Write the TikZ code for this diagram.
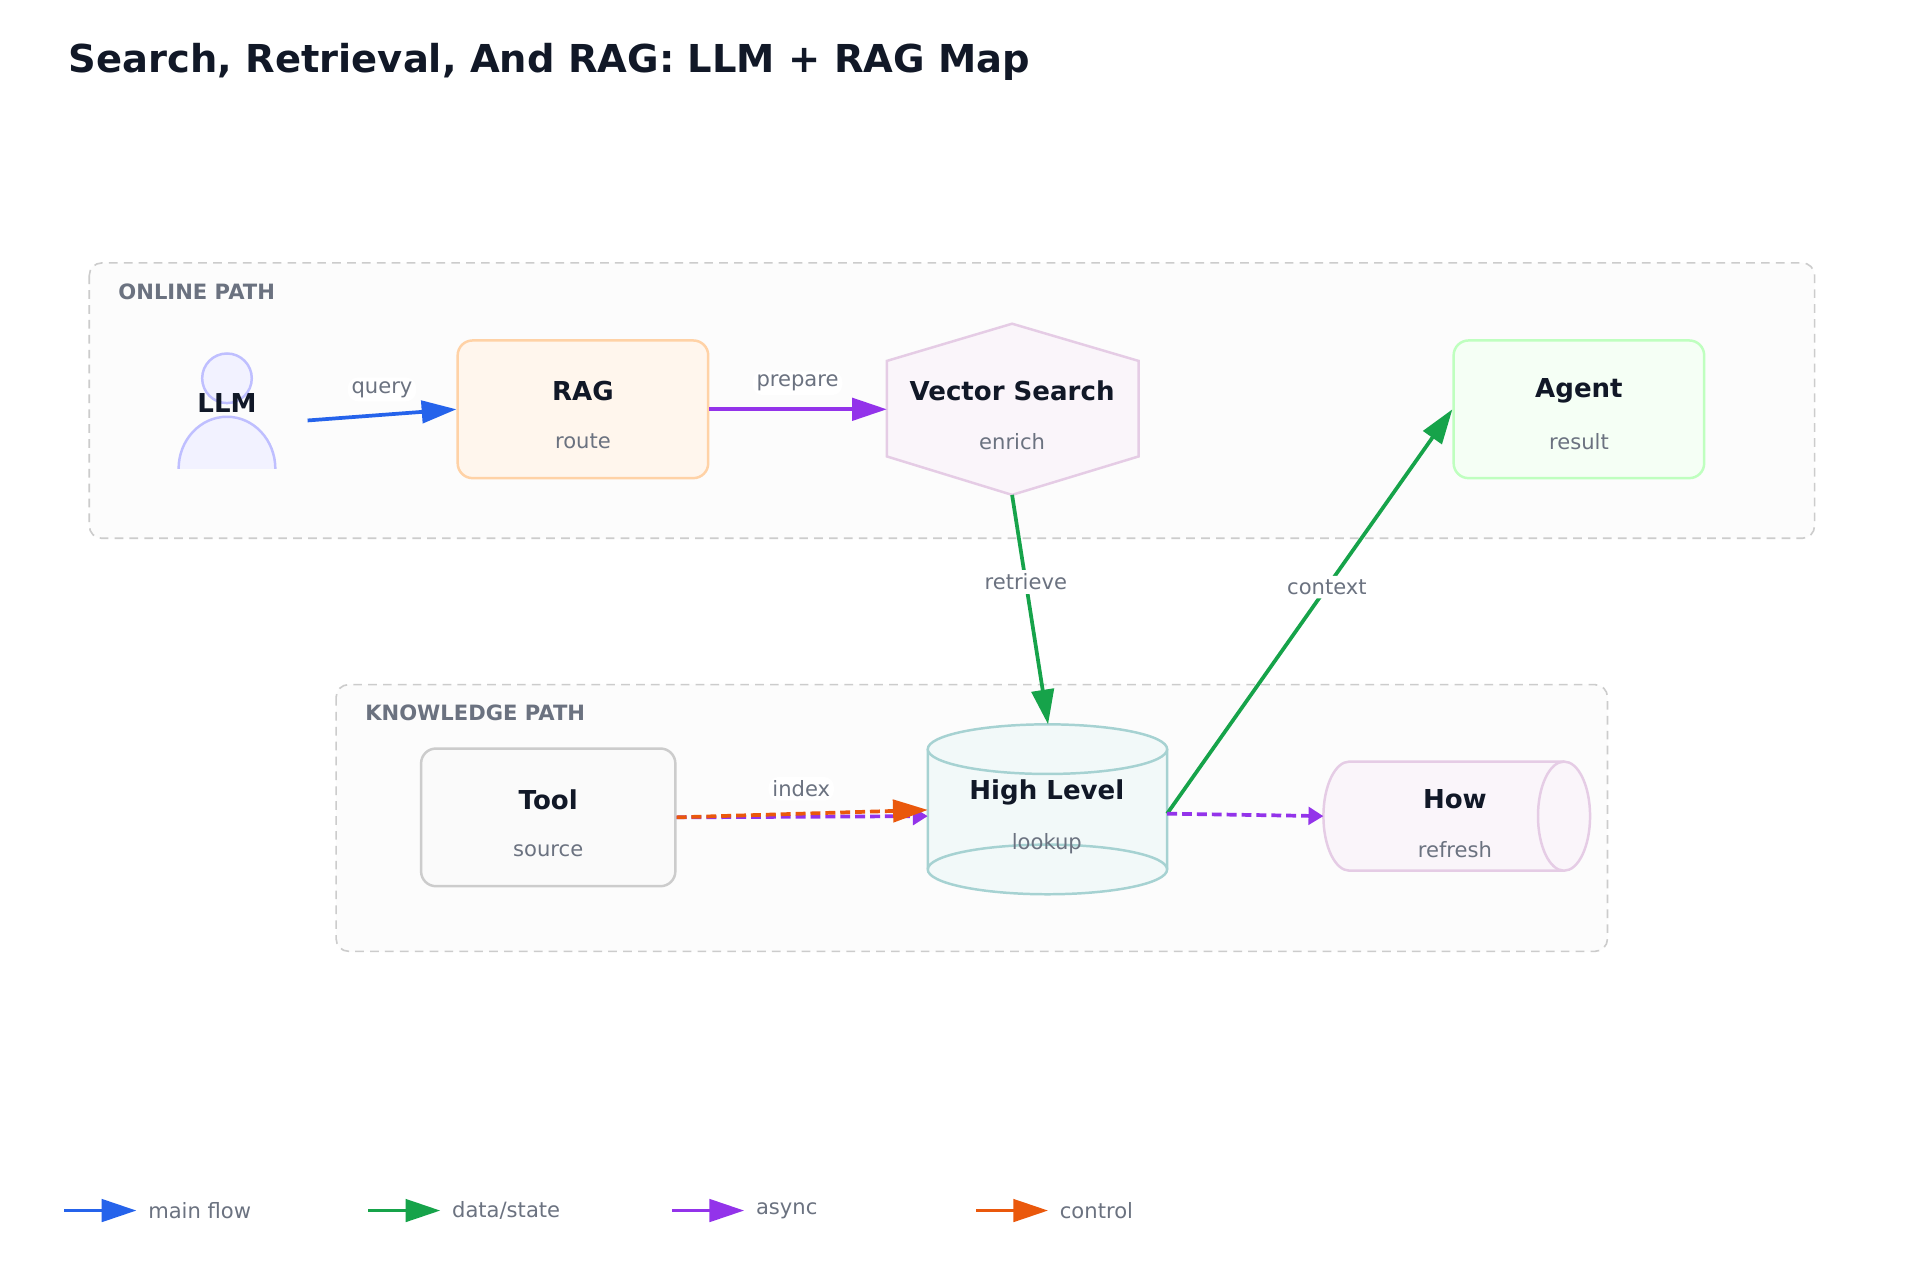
\documentclass[tikz,border=0pt]{standalone}
\usepackage{fontspec}
\setmainfont{DejaVu Sans}
\usetikzlibrary{arrows.meta,positioning}

\definecolor{ink}{HTML}{111827}
\definecolor{mute}{HTML}{6B7280}
\definecolor{cblue}{HTML}{2563EB}
\definecolor{cgreen}{HTML}{16A34A}
\definecolor{cpurple}{HTML}{9333EA}
\definecolor{corange}{HTML}{EA580C}

\tikzset{
  grp/.style={draw=black!20, fill=black!1, dashed, dash pattern=on 7pt off 5pt, line width=1.3pt, rounded corners=10pt},
  grplbl/.style={anchor=west, text=mute, font=\bfseries\fontsize{17}{20}\selectfont},
  box/.style={draw=#1, line width=2pt, rounded corners=12pt, minimum width=202pt, minimum height=111pt},
  ttl/.style={text=ink, font=\bfseries\fontsize{21}{25}\selectfont},
  sub/.style={text=mute, font=\fontsize{17}{20}\selectfont},
  flow/.style={draw=#1, line width=3pt, -{Triangle[length=28pt,width=18pt]}},
  lbl/.style={fill=white, rounded corners=8pt, text=mute, font=\fontsize{17}{20}\selectfont, inner sep=3pt},
}

\begin{document}
\begin{tikzpicture}[x=1pt,y=-1pt]
   \useasboundingbox[fill=white] (0,0) rectangle (1548,1032);

   %% title
   \node[anchor=west, text=ink, font=\bfseries\fontsize{31}{36}\selectfont] (title) at (52,50) {Search, Retrieval, And RAG: LLM + RAG Map};

   %% groups
   \draw[grp] (72,212) rectangle (1463,434);
   \node[grplbl] (online) at (92,235) {ONLINE PATH};
   \draw[grp] (271,552) rectangle (1296,767);
   \node[grplbl] (know) at (291,575) {KNOWLEDGE PATH};

   %% LLM (person)
   \draw[draw=blue!25, fill=blue!5, line width=2pt] (183,305) circle (20pt);
   \draw[draw=blue!25, fill=blue!5, line width=2pt] (144,378) arc[start angle=180, end angle=0, x radius=39pt, y radius=42pt];
   \node[ttl] (llm) at (183,325) {LLM};
   \coordinate (llmout) at (248,339);

   %% RAG
   \node[box=orange!35, fill=orange!7] (rag) at (470,330) {};
   \node[ttl] at (470,315) {RAG};
   \node[sub] at (470,356) {route};

   %% Vector Search
   \draw[draw=violet!20, fill=violet!4, line width=2pt]
     (816,261) -- (918,291) -- (918,368) -- (816,399) -- (715,368) -- (715,291) -- cycle;
   \coordinate (vsw) at (715,330);
   \coordinate (vss) at (816,399);
   \node[ttl] (vs) at (816,315) {Vector Search};
   \node[sub] at (816,356) {enrich};

   %% Agent
   \node[box=green!25, fill=green!4] (agent) at (1273,330) {};
   \node[ttl] at (1273,315) {Agent};
   \node[sub] at (1273,356) {result};

   %% Tool
   \node[box=black!20, fill=black!2, minimum width=205pt] (tool) at (442,659) {};
   \node[ttl] at (442,645) {Tool};
   \node[sub] at (442,686) {source};

   %% High Level (cylinder)
   \draw[draw=teal!35, fill=teal!5, line width=2pt]
     (748,604) -- (748,701) arc[start angle=180, end angle=360, x radius=96.5pt, y radius=20pt] -- (941,604);
   \draw[draw=teal!35, fill=teal!5, line width=2pt] (844.5,604) ellipse (96.5pt and 20pt);
   \draw[draw=teal!35, line width=2pt] (748,701) arc[start angle=180, end angle=0, x radius=96.5pt, y radius=20pt];
   \coordinate (hlw) at (748,656);
   \coordinate (hle) at (941,656);
   \coordinate (hln) at (845,584);
   \node[ttl] (hl) at (844,639) {High Level};
   \node[sub] at (844,680) {lookup};

   %% How (horizontal cylinder)
   \draw[draw=violet!20, fill=violet!4, line width=2pt]
     (1261,614) -- (1088,614) arc[start angle=90, end angle=270, x radius=21pt, y radius=44pt] -- (1261,702);
   \draw[draw=violet!20, fill=violet!4, line width=2pt] (1261,658) ellipse (21pt and 44pt);
   \coordinate (howw) at (1067,658);
   \node[ttl] (how) at (1173,644) {How};
   \node[sub] at (1173,685) {refresh};

   %% connectors
   \draw[flow=cblue] (llmout) -- (rag.west);
   \node[lbl] at (308,314) {query};
   \draw[flow=cpurple] (rag.east) -- (vsw);
   \node[lbl] at (643,309) {prepare};
   \draw[flow=cgreen] (vss) -- (hln) node[lbl, pos=0.38] {retrieve};
   \draw[flow=cgreen] (hle) -- (agent.west) node[lbl, pos=0.56] {context};
   \draw[flow=cpurple, dashed, dash pattern=on 8pt off 4pt, -{Triangle[length=12pt,width=14pt]}] (tool.east) -- (748,658);
   \draw[flow=corange, dashed, dash pattern=on 8pt off 4pt] (tool.east) -- (748,653);
   \node[lbl] at (646,636) {index};
   \draw[flow=cpurple, dashed, dash pattern=on 8pt off 4pt, -{Triangle[length=12pt,width=14pt]}] (hle) -- (howw);

   %% legend
   \foreach \x/\c/\t in {52/cblue/{main flow}, 297/cgreen/{data/state}, 542/cpurple/{async}, 787/corange/{control}}{
     \draw[flow=\c] (\x,976) -- ++(58,0);
     \node[anchor=west, text=mute, font=\fontsize{17}{20}\selectfont] at (\x+64,976) {\t};
   }
\end{tikzpicture}
\end{document}
